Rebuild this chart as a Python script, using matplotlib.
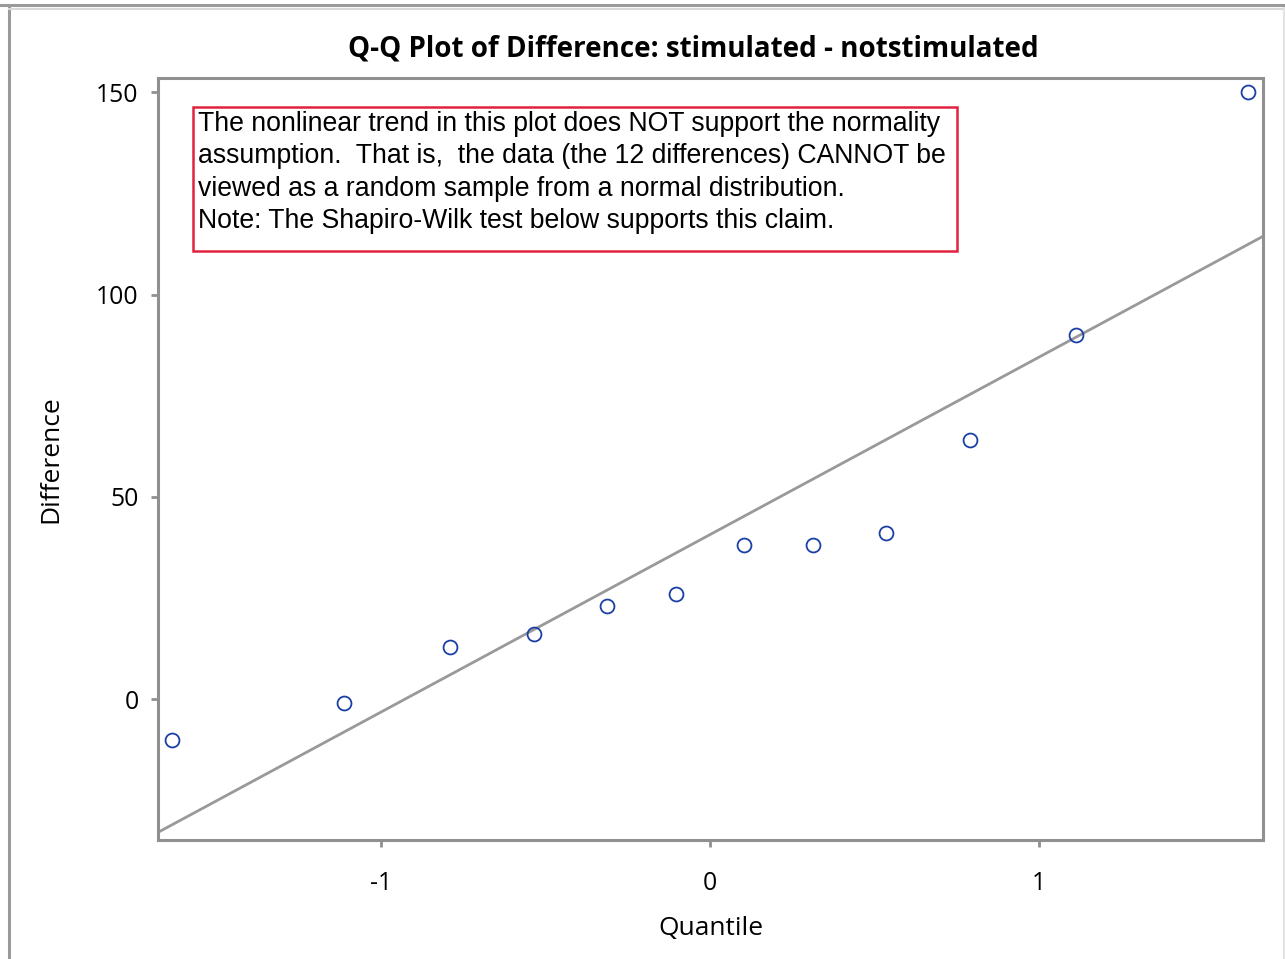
import numpy as np
import matplotlib
matplotlib.use("Agg")
import matplotlib.pyplot as plt
from matplotlib.patches import Rectangle
from matplotlib.lines import Line2D

# Paired differences (stimulated - notstimulated), sorted
differences = [-10, -1, 13, 16, 23, 26, 38, 38, 41, 64, 90, 150]
x_ticks = [-1, 0, 1]
y_ticks = [0, 50, 100, 150]
title = "Q-Q Plot of Difference: stimulated - notstimulated"
note_lines = [
    "The nonlinear trend in this plot does NOT support the normality",
    "assumption.  That is,  the data (the 12 differences) CANNOT be",
    "viewed as a random sample from a normal distribution.",
    "Note: The Shapiro-Wilk test below supports this claim.",
]

# Blom normal scores
def norm_ppf(p):
    # Acklam's rational approximation to the inverse normal CDF
    a = [-3.969683028665376e+01, 2.209460984245205e+02, -2.759285104469687e+02,
         1.383577518672690e+02, -3.066479806614716e+01, 2.506628277459239e+00]
    b = [-5.447609879822406e+01, 1.615858368580409e+02, -1.556989798598866e+02,
         6.680131188771972e+01, -1.328068155288572e+01]
    c = [-7.784894002430293e-03, -3.223964580411365e-01, -2.400758277161838e+00,
         -2.549732539343734e+00, 4.374664141464968e+00, 2.938163982698783e+00]
    d = [7.784695709041462e-03, 3.224671290700398e-01, 2.445134137142996e+00,
         3.754408661907416e+00]
    plow = 0.02425
    if p < plow:
        q = np.sqrt(-2 * np.log(p))
        return (((((c[0]*q+c[1])*q+c[2])*q+c[3])*q+c[4])*q+c[5]) / \
               ((((d[0]*q+d[1])*q+d[2])*q+d[3])*q+1)
    if p > 1 - plow:
        q = np.sqrt(-2 * np.log(1 - p))
        return -(((((c[0]*q+c[1])*q+c[2])*q+c[3])*q+c[4])*q+c[5]) / \
                ((((d[0]*q+d[1])*q+d[2])*q+d[3])*q+1)
    q = p - 0.5
    r = q * q
    return (((((a[0]*r+a[1])*r+a[2])*r+a[3])*r+a[4])*r+a[5])*q / \
           (((((b[0]*r+b[1])*r+b[2])*r+b[3])*r+b[4])*r+1)

y = np.sort(np.array(differences, dtype=float))
n = len(y)
q = np.array([norm_ppf((i - 0.375) / (n + 0.25)) for i in range(1, n + 1)])
mu, sigma = y.mean(), y.std(ddof=1)

fig = plt.figure(figsize=(12.85, 9.59), dpi=100)
ax = fig.add_axes([158/1285, 1 - 840/959, (1263-158)/1285, (840-78)/959])

xlim = (-1.678, 1.681)
ylim = (-34.8, 153.5)
ax.set_xlim(xlim)
ax.set_ylim(ylim)

xx = np.array(xlim)
ax.plot(xx, mu + sigma * xx, color="#999999", lw=2.0, zorder=2)
ax.plot(q, y, linestyle="none", marker="o", markersize=10, markerfacecolor="none",
        markeredgecolor="#1a3fa6", markeredgewidth=1.3, zorder=3)

spine_c = "#909090"
for s in ax.spines.values():
    s.set_color(spine_c)
    s.set_linewidth(2.2)

tick_font = "Open Sans"
ax.set_xticks(x_ticks)
ax.set_yticks(y_ticks)
ax.set_xticklabels([str(t) for t in x_ticks], fontsize=17.8, family=tick_font)
ax.set_yticklabels([str(t) for t in y_ticks], fontsize=17.8, family=tick_font)
ax.tick_params(axis="x", length=5, width=2, color=spine_c, pad=17)
ax.tick_params(axis="y", length=5, width=2, color=spine_c, pad=9)

ax.set_xlabel("Quantile", fontsize=19, family=tick_font, labelpad=15)
ax.set_ylabel("Difference", fontsize=19, family=tick_font, labelpad=23.5)

fig.text(693/1285, 1 - 49/959, title, ha="center", va="center",
         fontsize=20, fontweight="bold", family=tick_font)

# Annotation box
ax.add_patch(Rectangle((35/1105, (840-251)/762), (957-193)/1105, (251-107)/762,
                       transform=ax.transAxes, fill=False, edgecolor="#e0223f",
                       lw=1.8, zorder=4))
ax.text(40/1105, (840-111)/762, "\n".join(note_lines), transform=ax.transAxes,
        ha="left", va="top", fontsize=19.2, family="Liberation Sans",
        linespacing=1.32, zorder=5)

# Page frame lines
frame_c = "#9a9a9a"
fig.add_artist(Line2D([0, 1], [1 - 5/959, 1 - 5/959], transform=fig.transFigure,
                      color=frame_c, lw=2.2))
fig.add_artist(Line2D([8.5/1285, 8.5/1285], [0, 1 - 7/959], transform=fig.transFigure,
                      color=frame_c, lw=2.2))
fig.add_artist(Line2D([8.5/1285, 1], [1 - 8.5/959, 1 - 8.5/959], transform=fig.transFigure,
                      color="#d8d8d8", lw=1.5))
fig.add_artist(Line2D([1283.5/1285, 1283.5/1285], [0, 1 - 8/959], transform=fig.transFigure,
                      color="#e2e2e2", lw=1.5))

fig.savefig("out.png", dpi=100)
